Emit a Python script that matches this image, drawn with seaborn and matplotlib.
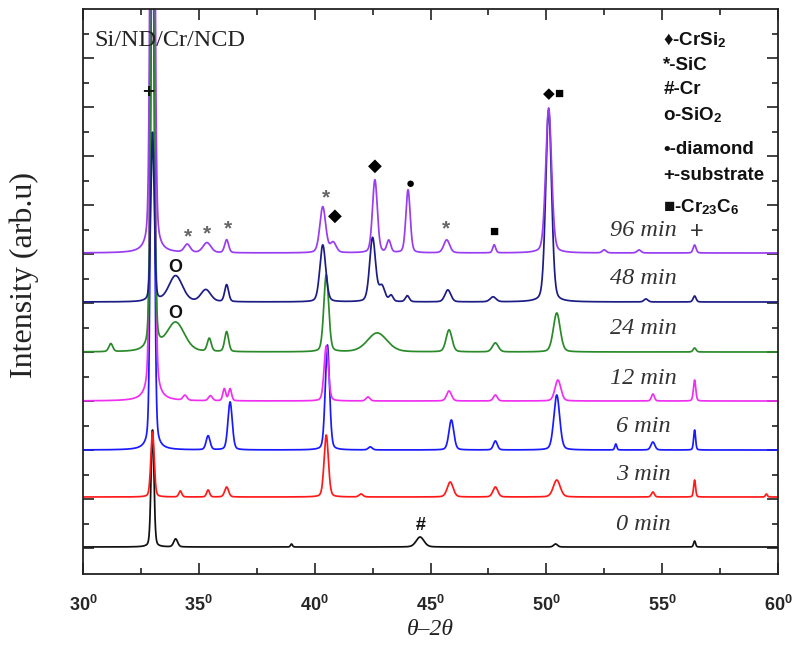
import numpy as np
import pandas as pd
import matplotlib
matplotlib.use("Agg")
import matplotlib.pyplot as plt
import seaborn as sns

# scan range (deg)
two_theta_min, two_theta_max = 30, 60

samples = ["0 min", "3 min", "6 min", "12 min", "24 min", "48 min", "96 min"]
colors = ["#111111", "#ff1a1a", "#1a1aff", "#f030f0", "#2a8a2a", "#1c1c85", "#9a3cf0"]
offsets = [27, 77, 124, 173, 222, 272, 321]

# peak tables: (centre deg, height, FWHM deg)
peaks_0 = [(33.0, 117, 0.15), (34.0, 8, 0.2), (39.0, 3, 0.1), (44.55, 10, 0.4),
           (50.4, 3, 0.2), (56.4, 6, 0.1)]
peaks_3 = [(33.0, 65, 0.17), (34.2, 6, 0.15), (35.4, 7, 0.15), (36.2, 10, 0.2),
           (40.5, 62, 0.22), (42.0, 3, 0.2), (45.85, 15, 0.3), (47.8, 10, 0.25),
           (50.45, 17, 0.35), (54.6, 5, 0.15), (56.4, 17, 0.1), (59.5, 3, 0.1)]
peaks_6 = [(33.0, 600, 0.17), (35.4, 14, 0.2), (36.35, 48, 0.22), (40.55, 105, 0.22),
           (42.4, 3, 0.2), (45.9, 30, 0.25), (47.8, 9, 0.2), (50.45, 55, 0.3),
           (53.0, 6, 0.1), (54.6, 8, 0.2), (56.4, 20, 0.1)]
peaks_12 = [(33.0, 900, 0.18), (34.4, 5, 0.2), (35.5, 5, 0.2), (36.1, 12, 0.15),
            (36.35, 12, 0.15), (40.5, 55, 0.22), (42.3, 4, 0.2), (45.8, 10, 0.25),
            (47.8, 6, 0.2), (50.5, 21, 0.3), (54.6, 7, 0.15), (56.4, 21, 0.12)]
peaks_24 = [(31.2, 8, 0.2), (33.0, 500, 0.18), (34.0, 29, 0.9), (35.45, 13, 0.2),
            (36.2, 20, 0.2), (40.5, 77, 0.25), (42.7, 19, 1.0), (45.8, 22, 0.3),
            (47.8, 9, 0.3), (50.45, 39, 0.35), (56.4, 4, 0.15)]
peaks_48 = [(33.0, 169, 0.17), (34.0, 26, 0.7), (35.3, 12, 0.5), (36.2, 17, 0.2),
            (40.35, 57, 0.3), (42.5, 64, 0.3), (42.9, 15, 0.3), (43.3, 6, 0.2),
            (44.0, 6, 0.2), (45.75, 12, 0.3), (47.7, 5, 0.3), (50.1, 192, 0.3),
            (54.3, 3, 0.2), (56.4, 6, 0.15)]
peaks_96 = [(33.0, 900, 0.18), (34.5, 8, 0.3), (35.35, 10, 0.4), (36.2, 13, 0.2),
            (40.35, 46, 0.3), (40.8, 10, 0.3), (42.6, 73, 0.25), (43.2, 12, 0.2),
            (44.03, 63, 0.22), (45.7, 13, 0.3), (47.75, 8, 0.15), (50.1, 145, 0.3),
            (52.5, 3, 0.2), (54.0, 3, 0.2), (56.4, 8, 0.15)]
peak_tables = [peaks_0, peaks_3, peaks_6, peaks_12, peaks_24, peaks_48, peaks_96]

# phase labels placed at the peaks: (symbol, 2theta, height, weight, colour, size)
phase_marks = [
    ("+", 32.8, 482, "bold", "#111111", 15),
    ("*", 34.53, 337, "bold", "#666666", 15),
    ("*", 35.35, 340, "bold", "#666666", 15),
    ("*", 36.26, 345, "bold", "#666666", 15),
    ("O", 33.97, 307, "bold", "#111111", 13),
    ("O", 33.97, 261, "bold", "#111111", 13),
    ("*", 40.49, 376, "bold", "#666666", 15),
    ("\u25C6", 40.88, 358, "normal", "#000000", 13),
    ("\u25C6", 42.6, 408, "normal", "#000000", 13),
    ("\u25CF", 44.11, 390, "normal", "#000000", 11),
    ("*", 45.67, 345, "bold", "#666666", 15),
    ("\u25A0", 47.74, 342, "normal", "#000000", 11),
    ("\u25C6", 50.1, 480, "normal", "#000000", 11),
    ("\u25A0", 50.55, 480, "normal", "#000000", 11),
    ("#", 44.59, 48, "bold", "#111111", 13),
    ("+", 56.5, 342, "normal", "#333333", 17),
]

legend_lines = ["\u2666-CrSi$_\\mathbf{2}$", "*-SiC", "#-Cr", "o-SiO$_\\mathbf{2}$",
                "\u2022-diamond", "+-substrate", "\u25A0-Cr$_\\mathbf{23}$C$_\\mathbf{6}$"]
legend_y = [534, 508, 484, 459, 424, 399, 367]

xtick_values = [30, 35, 40, 45, 50, 55, 60]


def profile(x, peaks):
    y = np.zeros_like(x)
    for c, h, w in peaks:
        g = np.exp(-4 * np.log(2) * ((x - c) / w) ** 2)
        lor = 1 / (1 + 4 * ((x - c) / w) ** 2)
        y += h * (0.75 * g + 0.25 * lor)
    return y


x = np.linspace(two_theta_min, two_theta_max, 3001)
frames = []
for name, peaks, off in zip(samples, peak_tables, offsets):
    frames.append(pd.DataFrame({"two_theta": x, "intensity": profile(x, peaks) + off,
                                "sample": name}))
df = pd.concat(frames, ignore_index=True)

sns.set_theme(style="ticks")
plt.rcParams["font.family"] = ["Liberation Serif", "DejaVu Sans"]
plt.rcParams["mathtext.fontset"] = "custom"
plt.rcParams["mathtext.rm"] = "Liberation Sans"
plt.rcParams["mathtext.bf"] = "Liberation Sans:bold"
plt.rcParams["mathtext.it"] = "Liberation Serif:italic"

fig = plt.figure(figsize=(7.95, 6.59), dpi=100)
ax = fig.add_axes([83 / 795, 1 - 574 / 659, 695 / 795, 565 / 659])

sns.lineplot(data=df, x="two_theta", y="intensity", hue="sample",
             palette=dict(zip(samples, colors)), hue_order=samples,
             linewidth=1.25, legend=False, ax=ax)

ax.set_xlim(two_theta_min, two_theta_max)
ax.set_ylim(0, 565)
ax.set_xticks(xtick_values)
ax.set_xticks(np.arange(32.5, 60, 5), minor=True)
ax.set_xticklabels([r"$\mathbf{%d^0}$" % v for v in xtick_values], fontsize=13)
ax.set_yticks(np.arange(26, 565, 49))
ax.set_yticks(np.arange(50.5, 565, 49), minor=True)
ax.set_yticklabels([])
ax.tick_params(which="both", direction="in", top=True, right=True,
               width=1.2, color="#222222")
ax.tick_params(which="major", length=8)
ax.tick_params(which="minor", length=4.5)
ax.tick_params(axis="x", which="major", pad=15)
for s in ax.spines.values():
    s.set_linewidth(1.3)
    s.set_color("#222222")

ax.set_xlabel("\u03b8\u20132\u03b8", fontsize=17, style="italic", color="#222222")
ax.xaxis.set_label_coords(0.5, -0.08)
ax.set_ylabel("Intensity (arb.u)", fontsize=23, color="#222222")
ax.yaxis.set_label_coords(-0.064, 0.53)

# curve labels
for name, off in zip(samples, offsets):
    ax.text(54.17, off + 23, name, fontsize=17.5, style="italic", color="#333333",
            ha="center", va="center")

ax.text(30.5, 533, "Si/ND/Cr/NCD", fontsize=17.5, color="#222222", ha="left",
        va="center")

for sym, xx, yy, wt, col, fs in phase_marks:
    ax.text(xx, yy, sym, fontsize=fs, fontweight=wt, color=col, ha="center",
            va="center", family=["Liberation Sans", "DejaVu Sans"])

for txt, yy in zip(legend_lines, legend_y):
    ax.text(55.05, yy, txt, fontsize=13.5, fontweight="bold", color="#111111",
            ha="left", va="center", family=["Liberation Sans", "DejaVu Sans"])

fig.savefig("out.png", dpi=100)
